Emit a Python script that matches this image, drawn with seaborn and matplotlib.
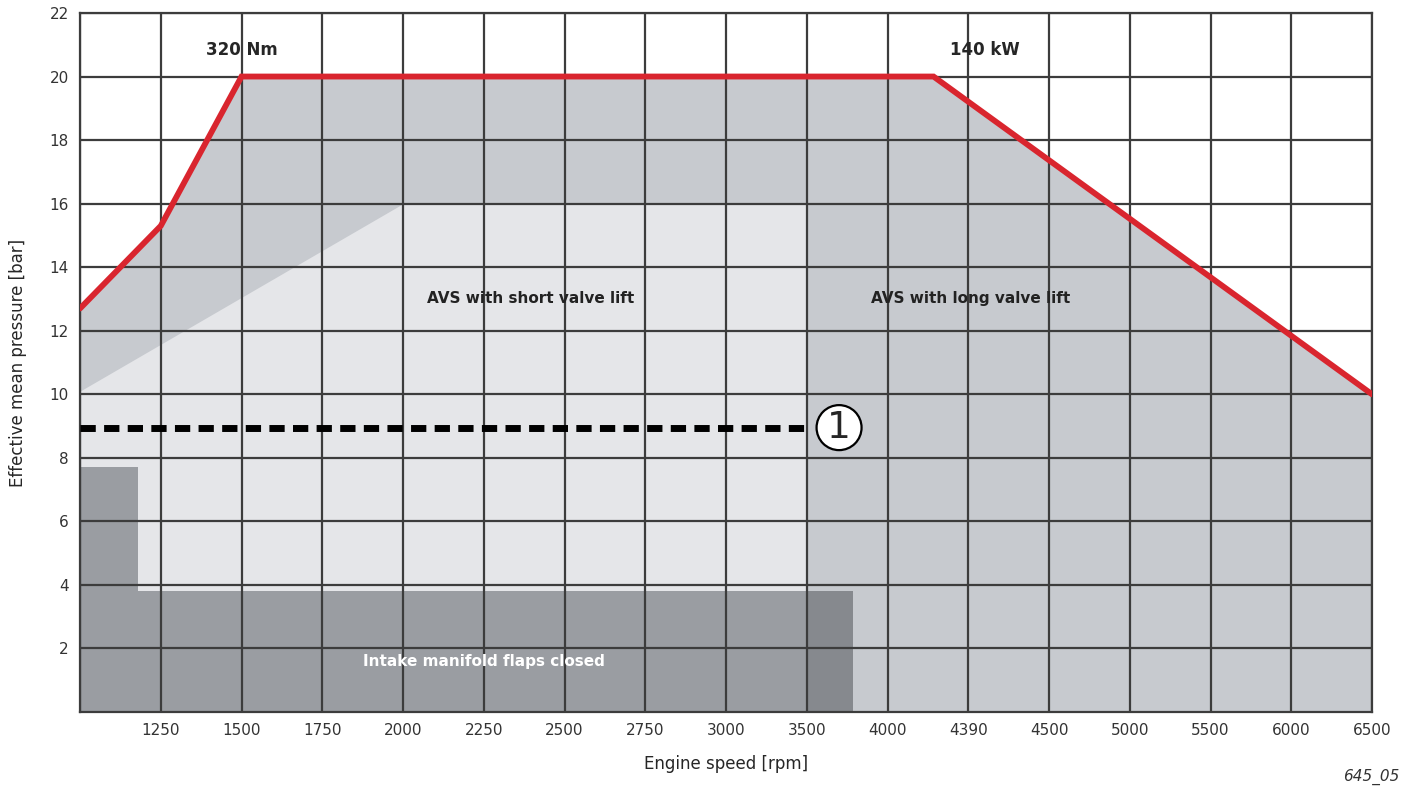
#!/usr/bin/env python3

import pandas as pd
from matplotlib import pyplot as plt
import seaborn as sns
import numpy as np

# x axis is evenly spaced categories of engine speed (index 0 = left edge)
speed_labels = ["", "1250", "1500", "1750", "2000", "2250", "2500", "2750", "3000",
                "3500", "4000", "4390", "4500", "5000", "5500", "6000", "6500"]

# full-load curve (x in grid steps, pressure in bar)
full_load_x = [0, 1, 2, 10.57, 16]
full_load_bar = [12.7, 15.3, 20.0, 20.0, 10.0]

# AVS short valve lift region upper boundary
short_lift_x = [0, 4, 9]
short_lift_bar = [10.1, 16.0, 16.0]

# intake manifold flaps closed region
flaps_x = [0, 0.72, 0.72, 9.57]
flaps_bar = [7.7, 7.7, 3.8, 3.8]

dash_bar = 8.95
dash_end = 9

df = pd.DataFrame({"x": full_load_x, "bar": full_load_bar})

sns.set_style("white")
plt.rcParams['font.family'] = ['DejaVu Sans']

fig = plt.figure(figsize=(14.14, 7.87), dpi=100)
ax = fig.add_axes([0.0566, 0.0953, 0.9137, 0.8882])

# long valve lift / full load area
ax.fill_between(full_load_x, 0, full_load_bar, color="#c7cacf", zorder=1, lw=0)
# short valve lift area
ax.fill_between(short_lift_x, 0, short_lift_bar, color="#e5e6e9", zorder=2, lw=0)
# flaps closed
ax.fill_between(flaps_x[:2], 0, flaps_bar[:2], color="#9a9da2", zorder=3, lw=0)
ax.fill_between([0, 9], 0, [flaps_bar[2]] * 2, color="#9a9da2", zorder=3, lw=0)
ax.fill_between([9, flaps_x[3]], 0, [flaps_bar[3]] * 2, color="#86898e", zorder=3, lw=0)

# grid
for i in range(len(speed_labels)):
    ax.axvline(i, color="#3c3c3c", lw=1.6, zorder=4)
for y in range(2, 23, 2):
    ax.axhline(y, color="#3c3c3c", lw=1.6, zorder=4)

sns.lineplot(x="x", y="bar", data=df, estimator=None, color="#d9252e", lw=4.2,
             ax=ax, zorder=6, solid_joinstyle="miter")

ax.plot([0, dash_end], [dash_bar, dash_bar], color="black", lw=5,
        dashes=(2.2, 1.2), zorder=6)
ax.text(9.4, dash_bar, "1", fontsize=27, ha="center", va="center", zorder=7,
        bbox=dict(boxstyle="circle,pad=0.12", fc="white", ec="black", lw=1.6))

ax.text(2, 20.85, "320 Nm", fontsize=12, fontweight="bold", ha="center", va="center", zorder=7)
ax.text(11.2, 20.85, "140 kW", fontsize=12, fontweight="bold", ha="center", va="center", zorder=7)
ax.text(5.58, 13, "AVS with short valve lift", fontsize=11, fontweight="bold",
        ha="center", va="center", color="#222222", zorder=7)
ax.text(11.03, 13, "AVS with long valve lift", fontsize=11, fontweight="bold",
        ha="center", va="center", color="#222222", zorder=7)
ax.text(5.0, 1.6, "Intake manifold flaps closed", fontsize=11, fontweight="bold",
        ha="center", va="center", color="white", zorder=7)

ax.set_xlim(0, 16)
ax.set_ylim(0, 22)
ax.set_xticks(range(len(speed_labels)))
ax.set_xticklabels(speed_labels)
ax.set_yticks(range(2, 23, 2))
ax.tick_params(axis="both", length=0, labelsize=11, colors="#333333", pad=8)
for s in ax.spines.values():
    s.set_color("#3c3c3c")
    s.set_linewidth(1.6)
    s.set_zorder(5)

plt.ylabel("Effective mean pressure [bar]", fontsize=12, labelpad=16)
plt.xlabel("Engine speed [rpm]", fontsize=12, labelpad=12)
fig.text(0.99, 0.003, "645_05", fontsize=11, style="italic", ha="right", va="bottom", color="#333333")

plt.savefig("out.png", dpi=100)
